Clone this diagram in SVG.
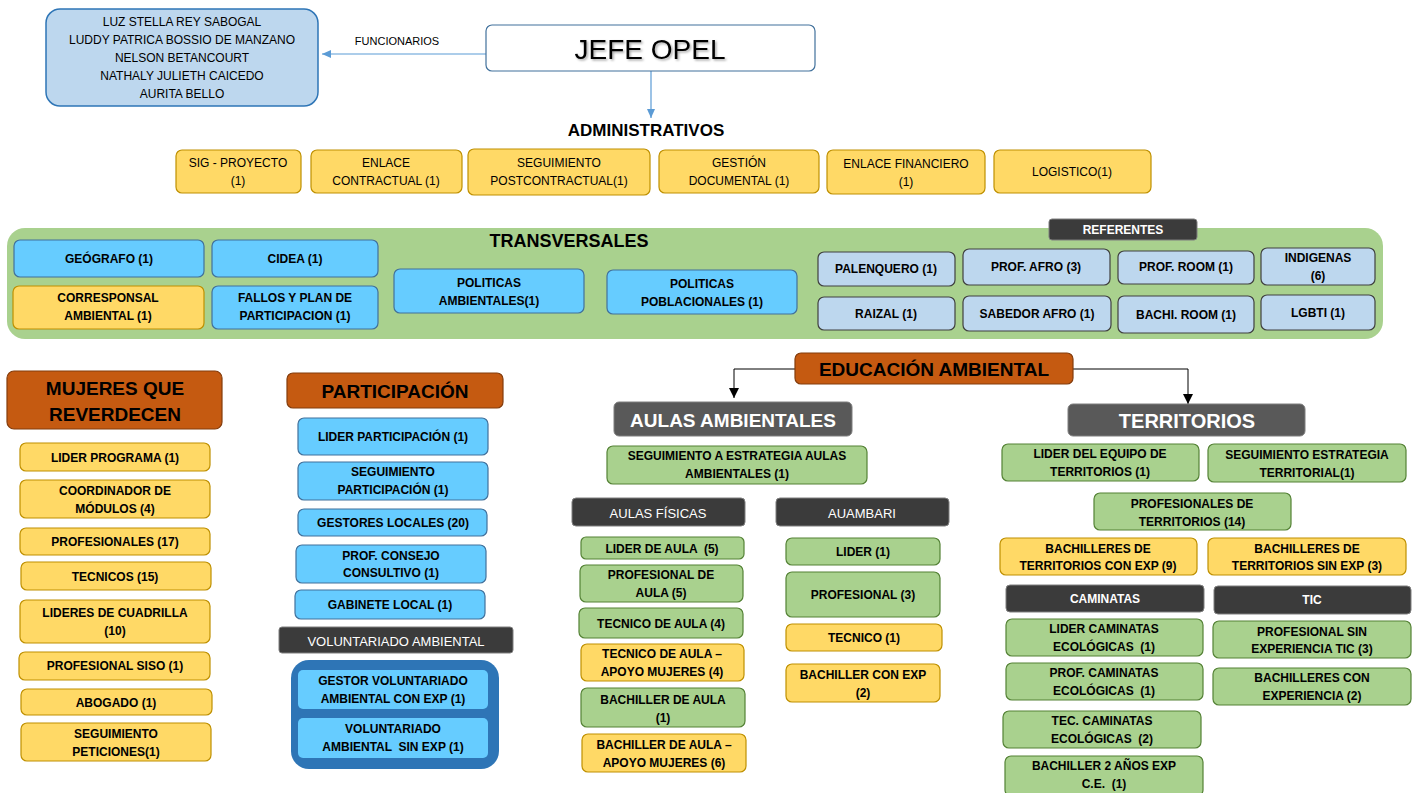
<svg xmlns="http://www.w3.org/2000/svg" width="1418" height="793" viewBox="0 0 1418 793">
<defs>
<style>
text{font-family:"Liberation Sans",Arial,sans-serif;text-anchor:middle;dominant-baseline:central;fill:#000}
.t{font-size:12px;font-weight:bold}
.tr{font-size:12px}
.tw{font-size:13px;fill:#fff}
.twb{font-size:12px;font-weight:bold;fill:#fff}
.h{font-size:19px;font-weight:bold}
.hw{font-size:19px;font-weight:bold;fill:#fff}
.y{fill:#FFD966;stroke:#BF9000;stroke-width:1.2}
.b{fill:#66CCFF;stroke:#41719C;stroke-width:1.2}
.r{fill:#BDD7EE;stroke:#404040;stroke-width:1.2}
.g{fill:#A9D18E;stroke:#548235;stroke-width:1.2}
.o{fill:#C55A11;stroke:#843C0C;stroke-width:1.2}
.d{fill:#3B3B3B;stroke:#7F7F7F;stroke-width:1}
.dg{fill:#595959;stroke:#7F7F7F;stroke-width:1}
.bl{stroke:#5B9BD5;stroke-width:1.2;fill:none}
.bk{stroke:#000;stroke-width:1;fill:none}
</style>
<marker id="ab" markerWidth="10" markerHeight="10" refX="9" refY="5" orient="auto" markerUnits="userSpaceOnUse"><path d="M0,1 L9,5 L0,9 z" fill="#5B9BD5"/></marker>
<marker id="ak" markerWidth="12" markerHeight="12" refX="10" refY="6" orient="auto" markerUnits="userSpaceOnUse"><path d="M0,1 L10,6 L0,11 z" fill="#000"/></marker>
<filter id="sh" x="-10%" y="-30%" width="120%" height="160%"><feDropShadow dx="1.5" dy="1.5" stdDeviation="1" flood-color="#000" flood-opacity="0.35"/></filter>
</defs>
<rect width="1418" height="793" fill="#fff"/>

<g id="connectors">
<path class="bl" d="M486,54 H322" marker-end="url(#ab)"/>
<text x="397" y="41" style="font-size:11px">FUNCIONARIOS</text>
<path class="bl" d="M651,71 V118" marker-end="url(#ab)"/>
<path class="bk" d="M795,369 H734 V398" marker-end="url(#ak)"/>
<path class="bk" d="M1073,369 H1188 V404" marker-end="url(#ak)"/>
</g>

<g id="funcionarios">
<rect x="46" y="9" width="272" height="97" rx="14" fill="#BDD7EE" stroke="#2E75B6" stroke-width="1.5"/>
<text class="tr" x="182" y="22">LUZ STELLA REY SABOGAL</text>
<text class="tr" x="182" y="40">LUDDY PATRICA BOSSIO DE MANZANO</text>
<text class="tr" x="182" y="58">NELSON BETANCOURT</text>
<text class="tr" x="182" y="76">NATHALY JULIETH CAICEDO</text>
<text class="tr" x="182" y="94">AURITA BELLO</text>
</g>

<g id="jefe">
<rect x="486" y="25" width="329" height="46" rx="6" fill="#fff" stroke="#41719C" stroke-width="1.2"/>
<text x="650" y="49" style="font-size:28px" filter="url(#sh)">JEFE OPEL</text>
</g>

<g id="administrativos">
<text x="646" y="130" style="font-size:17px;font-weight:bold">ADMINISTRATIVOS</text>
</g>
<g id="adm-sig"><rect class="y" x="176" y="150" width="125" height="43" rx="6"/><text class="tr" x="238" y="163">SIG - PROYECTO</text><text class="tr" x="238" y="181">(1)</text></g>
<g id="adm-enlace"><rect class="y" x="311" y="150" width="151" height="43" rx="6"/><text class="tr" x="386" y="163">ENLACE</text><text class="tr" x="386" y="181">CONTRACTUAL (1)</text></g>
<g id="adm-seg"><rect class="y" x="468" y="149" width="182" height="46" rx="6"/><text class="tr" x="559" y="163">SEGUIMIENTO</text><text class="tr" x="559" y="181">POSTCONTRACTUAL(1)</text></g>
<g id="adm-gestion"><rect class="y" x="659" y="150" width="160" height="43" rx="6"/><text class="tr" x="739" y="163">GESTIÓN</text><text class="tr" x="739" y="181">DOCUMENTAL (1)</text></g>
<g id="adm-fin"><rect class="y" x="827" y="150" width="158" height="44" rx="6"/><text class="tr" x="906" y="164">ENLACE FINANCIERO</text><text class="tr" x="906" y="182">(1)</text></g>
<g id="adm-log"><rect class="y" x="994" y="150" width="157" height="43" rx="6"/><text class="tr" x="1072" y="172">LOGISTICO(1)</text></g>

<g id="transversales">
<rect x="7" y="228" width="1376" height="111" rx="18" fill="#A9D18E"/>
<text x="569" y="241" style="font-size:18px;font-weight:bold">TRANSVERSALES</text>
</g>
<g id="referentes"><rect class="d" x="1049" y="219" width="148" height="21" rx="3"/><text class="twb" x="1123" y="230">REFERENTES</text></g>
<g id="tr-geo"><rect class="b" x="14" y="240" width="190" height="37" rx="6"/><text class="t" x="109" y="259">GEÓGRAFO (1)</text></g>
<g id="tr-cidea"><rect class="b" x="212" y="240" width="166" height="37" rx="6"/><text class="t" x="295" y="259">CIDEA (1)</text></g>
<g id="tr-corr"><rect class="y" x="13" y="286" width="191" height="43" rx="6"/><text class="t" x="108" y="298">CORRESPONSAL</text><text class="t" x="108" y="316">AMBIENTAL (1)</text></g>
<g id="tr-fallos"><rect class="b" x="212" y="286" width="166" height="43" rx="6"/><text class="t" x="295" y="298">FALLOS Y PLAN DE</text><text class="t" x="295" y="316">PARTICIPACION (1)</text></g>
<g id="tr-polamb"><rect class="b" x="394" y="269" width="190" height="44" rx="6"/><text class="t" x="489" y="283">POLITICAS</text><text class="t" x="489" y="301">AMBIENTALES(1)</text></g>
<g id="tr-polpob"><rect class="b" x="607" y="270" width="190" height="44" rx="6"/><text class="t" x="702" y="284">POLITICAS</text><text class="t" x="702" y="302">POBLACIONALES (1)</text></g>
<g id="ref-palenquero"><rect class="r" x="818" y="252" width="137" height="34" rx="6"/><text class="t" x="886" y="269">PALENQUERO (1)</text></g>
<g id="ref-profafro"><rect class="r" x="963" y="249" width="147" height="36" rx="6"/><text class="t" x="1036" y="267">PROF. AFRO (3)</text></g>
<g id="ref-profroom"><rect class="r" x="1118" y="251" width="136" height="33" rx="6"/><text class="t" x="1186" y="267">PROF. ROOM (1)</text></g>
<g id="ref-indigenas"><rect class="r" x="1261" y="248" width="114" height="37" rx="6"/><text class="t" x="1318" y="258">INDIGENAS</text><text class="t" x="1318" y="276">(6)</text></g>
<g id="ref-raizal"><rect class="r" x="818" y="297" width="137" height="33" rx="6"/><text class="t" x="886" y="314">RAIZAL (1)</text></g>
<g id="ref-sabedor"><rect class="r" x="963" y="296" width="148" height="35" rx="6"/><text class="t" x="1037" y="314">SABEDOR AFRO (1)</text></g>
<g id="ref-bachiroom"><rect class="r" x="1118" y="296" width="136" height="37" rx="6"/><text class="t" x="1186" y="315">BACHI. ROOM (1)</text></g>
<g id="ref-lgbti"><rect class="r" x="1261" y="295" width="114" height="35" rx="6"/><text class="t" x="1318" y="313">LGBTI (1)</text></g>

<g id="mujeres"><rect class="o" x="7" y="371" width="215" height="58" rx="7"/><text class="h" x="115" y="388">MUJERES QUE</text><text class="h" x="115" y="414">REVERDECEN</text></g>
<g id="mq-lider"><rect class="y" x="20" y="443" width="190" height="28" rx="6"/><text class="t" x="115" y="458">LIDER PROGRAMA (1)</text></g>
<g id="mq-coord"><rect class="y" x="20" y="480" width="190" height="38" rx="6"/><text class="t" x="115" y="491">COORDINADOR DE</text><text class="t" x="115" y="509">MÓDULOS (4)</text></g>
<g id="mq-prof"><rect class="y" x="20" y="528" width="190" height="27" rx="6"/><text class="t" x="115" y="542">PROFESIONALES (17)</text></g>
<g id="mq-tec"><rect class="y" x="21" y="562" width="190" height="28" rx="6"/><text class="t" x="115" y="577">TECNICOS (15)</text></g>
<g id="mq-cuad"><rect class="y" x="20" y="600" width="190" height="43" rx="6"/><text class="t" x="115" y="613">LIDERES DE CUADRILLA</text><text class="t" x="115" y="631">(10)</text></g>
<g id="mq-siso"><rect class="y" x="19" y="652" width="191" height="28" rx="6"/><text class="t" x="115" y="666">PROFESIONAL SISO (1)</text></g>
<g id="mq-abog"><rect class="y" x="21" y="689" width="191" height="26" rx="6"/><text class="t" x="116" y="703">ABOGADO (1)</text></g>
<g id="mq-pet"><rect class="y" x="21" y="723" width="190" height="38" rx="6"/><text class="t" x="116" y="734">SEGUIMIENTO</text><text class="t" x="116" y="752">PETICIONES(1)</text></g>

<g id="participacion"><rect class="o" x="287" y="373" width="216" height="35" rx="6"/><text class="h" x="395" y="391">PARTICIPACIÓN</text></g>
<g id="pa-lider"><rect class="b" x="298" y="418" width="190" height="37" rx="6"/><text class="t" x="393" y="437">LIDER PARTICIPACIÓN (1)</text></g>
<g id="pa-seg"><rect class="b" x="298" y="462" width="190" height="38" rx="6"/><text class="t" x="393" y="472">SEGUIMIENTO</text><text class="t" x="393" y="490">PARTICIPACIÓN (1)</text></g>
<g id="pa-gest"><rect class="b" x="298" y="509" width="189" height="27" rx="6"/><text class="t" x="393" y="523">GESTORES LOCALES (20)</text></g>
<g id="pa-cons"><rect class="b" x="296" y="545" width="190" height="38" rx="6"/><text class="t" x="391" y="556">PROF. CONSEJO</text><text class="t" x="391" y="573">CONSULTIVO (1)</text></g>
<g id="pa-gab"><rect class="b" x="295" y="590" width="190" height="29" rx="6"/><text class="t" x="390" y="605">GABINETE LOCAL (1)</text></g>
<g id="voluntariado"><rect class="d" x="279" y="627" width="234" height="26" rx="3"/><text class="tw" x="396" y="641">VOLUNTARIADO AMBIENTAL</text></g>
<g id="vol-box"><rect x="291" y="660" width="208" height="109" rx="18" fill="#2E75B6"/></g>
<g id="vol-gestor"><rect x="298" y="670" width="190" height="39" rx="5" fill="#66CCFF"/><text class="t" x="393" y="681">GESTOR VOLUNTARIADO</text><text class="t" x="393" y="699">AMBIENTAL CON EXP (1)</text></g>
<g id="vol-sin"><rect x="298" y="718" width="190" height="40" rx="5" fill="#66CCFF"/><text class="t" x="393" y="729">VOLUNTARIADO</text><text class="t" x="393" y="747" xml:space="preserve">AMBIENTAL  SIN EXP (1)</text></g>

<g id="educacion"><rect class="o" x="795" y="353" width="278" height="31" rx="6"/><text class="h" x="934" y="369">EDUCACIÓN AMBIENTAL</text></g>

<g id="aulas"><rect class="dg" x="614" y="402" width="238" height="34" rx="5"/><text class="hw" x="733" y="420">AULAS AMBIENTALES</text></g>
<g id="au-seg"><rect class="g" x="607" y="446" width="260" height="38" rx="6"/><text class="t" x="737" y="456">SEGUIMIENTO A ESTRATEGIA AULAS</text><text class="t" x="737" y="474">AMBIENTALES (1)</text></g>
<g id="aulas-fisicas"><rect class="d" x="572" y="498" width="173" height="28" rx="4"/><text class="tw" x="658" y="513">AULAS FÍSICAS</text></g>
<g id="auambari"><rect class="d" x="776" y="498" width="173" height="28" rx="4"/><text class="tw" x="862" y="513">AUAMBARI</text></g>
<g id="af-lider"><rect class="g" x="581" y="537" width="163" height="22" rx="5"/><text class="t" x="662" y="549" xml:space="preserve">LIDER DE AULA  (5)</text></g>
<g id="af-prof"><rect class="g" x="580" y="565" width="163" height="37" rx="6"/><text class="t" x="661" y="575">PROFESIONAL DE</text><text class="t" x="661" y="593">AULA (5)</text></g>
<g id="af-tec"><rect class="g" x="579" y="608" width="164" height="30" rx="6"/><text class="t" x="661" y="624">TECNICO DE AULA (4)</text></g>
<g id="af-tecmuj"><rect class="y" x="581" y="644" width="163" height="37" rx="6"/><text class="t" x="662" y="654">TECNICO DE AULA –</text><text class="t" x="662" y="672">APOYO MUJERES (4)</text></g>
<g id="af-bach"><rect class="g" x="581" y="688" width="164" height="39" rx="6"/><text class="t" x="663" y="700">BACHILLER DE AULA</text><text class="t" x="663" y="718">(1)</text></g>
<g id="af-bachmuj"><rect class="y" x="582" y="734" width="164" height="38" rx="6"/><text class="t" x="664" y="745">BACHILLER DE AULA –</text><text class="t" x="664" y="763">APOYO MUJERES (6)</text></g>
<g id="am-lider"><rect class="g" x="786" y="538" width="154" height="27" rx="6"/><text class="t" x="863" y="552">LIDER (1)</text></g>
<g id="am-prof"><rect class="g" x="786" y="572" width="154" height="45" rx="6"/><text class="t" x="863" y="595">PROFESIONAL (3)</text></g>
<g id="am-tec"><rect class="y" x="786" y="624" width="156" height="27" rx="6"/><text class="t" x="864" y="638">TECNICO (1)</text></g>
<g id="am-bach"><rect class="y" x="786" y="664" width="154" height="38" rx="6"/><text class="t" x="863" y="675">BACHILLER CON EXP</text><text class="t" x="863" y="693">(2)</text></g>

<g id="territorios"><rect class="dg" x="1068" y="404" width="237" height="32" rx="5"/><text class="hw" x="1187" y="421" style="font-size:20px">TERRITORIOS</text></g>
<g id="te-lider"><rect class="g" x="1002" y="444" width="197" height="37" rx="6"/><text class="t" x="1100" y="454">LIDER DEL EQUIPO DE</text><text class="t" x="1100" y="472">TERRITORIOS (1)</text></g>
<g id="te-seg"><rect class="g" x="1208" y="444" width="198" height="38" rx="6"/><text class="t" x="1307" y="455">SEGUIMIENTO ESTRATEGIA</text><text class="t" x="1307" y="473">TERRITORIAL(1)</text></g>
<g id="te-prof"><rect class="g" x="1094" y="493" width="197" height="37" rx="6"/><text class="t" x="1192" y="504">PROFESIONALES DE</text><text class="t" x="1192" y="522">TERRITORIOS (14)</text></g>
<g id="te-bachcon"><rect class="y" x="1000" y="538" width="197" height="37" rx="6"/><text class="t" x="1098" y="549">BACHILLERES DE</text><text class="t" x="1098" y="566">TERRITORIOS CON EXP (9)</text></g>
<g id="te-bachsin"><rect class="y" x="1208" y="538" width="198" height="37" rx="6"/><text class="t" x="1307" y="549">BACHILLERES DE</text><text class="t" x="1307" y="566">TERRITORIOS SIN EXP (3)</text></g>
<g id="caminatas"><rect class="d" x="1006" y="585" width="198" height="27" rx="4"/><text class="twb" x="1105" y="599">CAMINATAS</text></g>
<g id="tic"><rect class="d" x="1214" y="586" width="197" height="28" rx="4"/><text class="twb" x="1312" y="600">TIC</text></g>
<g id="ca-lider"><rect class="g" x="1006" y="619" width="197" height="37" rx="6"/><text class="t" x="1104" y="629">LIDER CAMINATAS</text><text class="t" x="1104" y="647" xml:space="preserve">ECOLÓGICAS  (1)</text></g>
<g id="ca-prof"><rect class="g" x="1006" y="663" width="197" height="37" rx="6"/><text class="t" x="1104" y="673">PROF. CAMINATAS</text><text class="t" x="1104" y="691" xml:space="preserve">ECOLÓGICAS  (1)</text></g>
<g id="ca-tec"><rect class="g" x="1003" y="711" width="198" height="37" rx="6"/><text class="t" x="1102" y="721">TEC. CAMINATAS</text><text class="t" x="1102" y="739" xml:space="preserve">ECOLÓGICAS  (2)</text></g>
<g id="ca-bach"><rect class="g" x="1005" y="756" width="198" height="40" rx="6"/><text class="t" x="1104" y="766">BACHILLER 2 AÑOS EXP</text><text class="t" x="1104" y="784" xml:space="preserve">C.E.  (1)</text></g>
<g id="tic-prof"><rect class="g" x="1213" y="621" width="198" height="37" rx="6"/><text class="t" x="1312" y="632">PROFESIONAL SIN</text><text class="t" x="1312" y="649">EXPERIENCIA TIC (3)</text></g>
<g id="tic-bach"><rect class="g" x="1213" y="668" width="198" height="37" rx="6"/><text class="t" x="1312" y="678">BACHILLERES CON</text><text class="t" x="1312" y="696">EXPERIENCIA (2)</text></g>
</svg>
